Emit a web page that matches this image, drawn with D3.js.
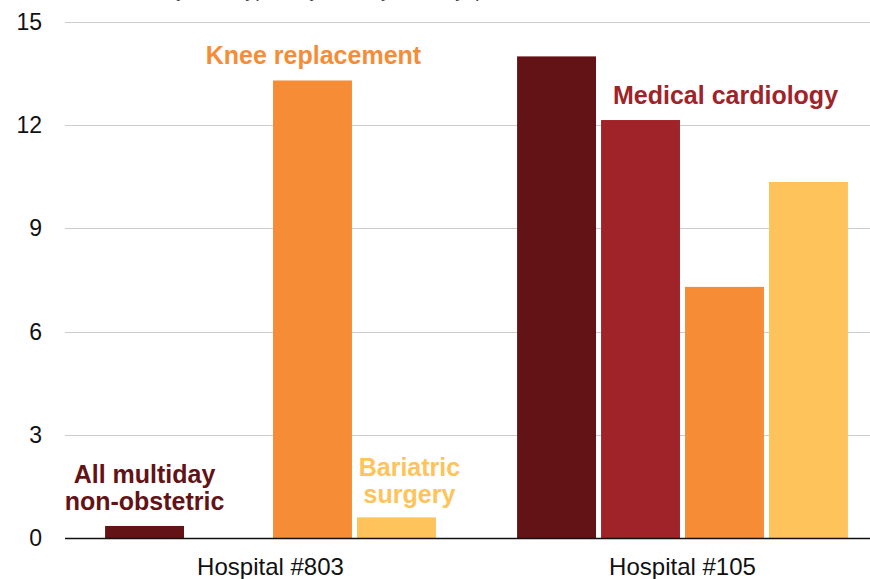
<!DOCTYPE html>
<html>
<head>
<meta charset="utf-8">
<script src="https://cdn.jsdelivr.net/npm/d3@7"></script>
<style>
  body { margin: 0; background: #fff; }
  svg { display: block; font-family: "Liberation Sans", Arial, Helvetica, sans-serif; }
</style>
</head>
<body>
<svg id="chart" width="870" height="579"></svg>
<script>
// values
var groups = ["Hospital #803", "Hospital #105"];
var series = ["All multiday non-obstetric", "Medical cardiology", "Knee replacement", "Bariatric surgery"];
var hospital803 = [0.35, null, 13.3, 0.6];
var hospital105 = [14.0, 12.15, 7.3, 10.35];
var yTicks = [0, 3, 6, 9, 12, 15];
var colors = ["#631216", "#9f2328", "#f68d36", "#fec35b"];

var rows = [hospital803, hospital105];

var svg = d3.select("#chart");

var y = d3.scaleLinear().domain([0, 15]).range([538, 22]);

var x0 = d3.scaleBand().domain(groups)
    .range([64.5, 888.5])
    .paddingInner(0.197)
    .paddingOuter(0.0985);

var x1 = d3.scaleBand().domain(series)
    .range([0, x0.bandwidth()])
    .paddingInner(0.06);

var color = d3.scaleOrdinal().domain(series).range(colors);

// subtitle, cut off at the top edge as in the original
svg.append("text")
    .attr("x", 4).attr("y", -3)
    .attr("font-size", 20).attr("fill", "#444")
    .text("Readmission rate by case type, adjusted by severity, percent");

// gridlines
svg.append("g").selectAll("line")
    .data(yTicks.filter(function(d) { return d > 0; }))
    .join("line")
    .attr("x1", 65).attr("x2", 870)
    .attr("y1", function(d) { return Math.round(y(d)) + 0.5; })
    .attr("y2", function(d) { return Math.round(y(d)) + 0.5; })
    .attr("stroke", "#c9ccd1").attr("stroke-width", 1);

// y tick labels
svg.append("g").selectAll("text")
    .data(yTicks)
    .join("text")
    .attr("x", 42)
    .attr("y", function(d) { return y(d) + 8; })
    .attr("text-anchor", "end")
    .attr("font-size", 23)
    .attr("fill", "#111")
    .text(function(d) { return d; });

// bars
var g = svg.append("g").selectAll("g")
    .data(groups)
    .join("g")
    .attr("transform", function(d) { return "translate(" + x0(d) + ",0)"; });

g.selectAll("rect")
    .data(function(d, i) {
      return series.map(function(s, j) { return { key: s, value: rows[i][j] }; })
        .filter(function(e) { return e.value != null; });
    })
    .join("rect")
    .attr("x", function(d) { return x1(d.key); })
    .attr("y", function(d) { return y(d.value); })
    .attr("width", x1.bandwidth())
    .attr("height", function(d) { return y(0) - y(d.value); })
    .attr("fill", function(d) { return color(d.key); });

// baseline
svg.append("line")
    .attr("x1", 65).attr("x2", 870)
    .attr("y1", y(0) + 0.5).attr("y2", y(0) + 0.5)
    .attr("stroke", "#111").attr("stroke-width", 1.3);

// group labels
svg.append("g").selectAll("text")
    .data(groups)
    .join("text")
    .attr("x", function(d) { return x0(d) + x0.bandwidth() / 2; })
    .attr("y", 575)
    .attr("text-anchor", "middle")
    .attr("font-size", 24)
    .attr("fill", "#111")
    .text(function(d) { return d; });

// series labels next to their bars
function barCenter(group, s) {
  return x0(group) + x1(s) + x1.bandwidth() / 2;
}
var labels = [
  { lines: ["All multiday", "non-obstetric"], x: barCenter(groups[0], series[0]), y: 483, s: series[0] },
  { lines: ["Medical cardiology"], x: barCenter(groups[1], series[1]) + 85, y: 104, s: series[1] },
  { lines: ["Knee replacement"], x: barCenter(groups[0], series[2]) + 1, y: 64, s: series[2] },
  { lines: ["Bariatric", "surgery"], x: barCenter(groups[0], series[3]) + 13, y: 476, s: series[3] }
];

labels.forEach(function(l) {
  var t = svg.append("text")
      .attr("text-anchor", "middle")
      .attr("font-size", 25)
      .attr("font-weight", "bold")
      .attr("fill", color(l.s))
      .attr("stroke", "#fff").attr("stroke-width", 0.8)
      .attr("paint-order", "stroke");
  l.lines.forEach(function(line, i) {
    t.append("tspan")
      .attr("x", l.x)
      .attr("y", l.y + i * 27)
      .text(line);
  });
});
</script>
</body>
</html>
